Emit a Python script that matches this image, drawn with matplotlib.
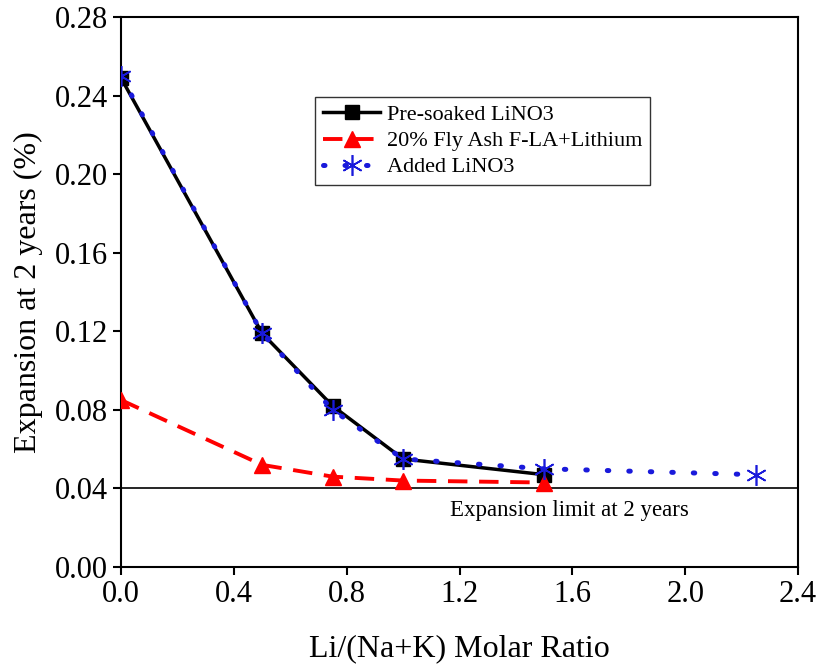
import matplotlib
matplotlib.use("Agg")
import matplotlib.pyplot as plt

plt.rcParams['font.family'] = ['Liberation Serif', 'DejaVu Serif']

x_presoak = [0.0, 0.5, 0.75, 1.0, 1.5]
y_presoak = [0.249, 0.119, 0.082, 0.055, 0.047]

x_flyash = [0.0, 0.5, 0.75, 1.0, 1.5]
y_flyash = [0.085, 0.052, 0.046, 0.044, 0.043]

x_added = [0.0, 0.5, 0.75, 1.0, 1.5, 2.25]
y_added = [0.250, 0.119, 0.080, 0.055, 0.050, 0.047]

limit = 0.04

fig = plt.figure(figsize=(8.2, 6.69), dpi=100)
ax = fig.add_axes([0.1476, 0.1525, 0.8256, 0.822])

ax.plot(x_presoak, y_presoak, color='black', lw=2.5, marker='s', ms=10,
        label='Pre-soaked LiNO3', zorder=3)
ax.plot(x_flyash, y_flyash, color='red', lw=2.8, ls=(0, (5, 3)), marker='^', ms=12,
        label='20% Fly Ash F-LA+Lithium', zorder=3)
ax.plot(x_added, y_added, color='#1a1adb', lw=3.6, ls=(0, (0.3, 4.0)), dash_capstyle='round',
        marker=(6, 2, 0), ms=15, mew=1.2, label='Added LiNO3', zorder=4)

ax.axhline(limit, color='black', lw=1.2, zorder=2)
ax.text(1.59, 0.029, 'Expansion limit at 2 years', ha='center', va='center', fontsize=16.5)

ax.set_xlim(0, 2.4)
ax.set_ylim(0, 0.28)
ax.set_xticks([0.0, 0.4, 0.8, 1.2, 1.6, 2.0, 2.4])
ax.set_xticklabels(['0.0', '0.4', '0.8', '1.2', '1.6', '2.0', '2.4'])
ax.set_yticks([0.00, 0.04, 0.08, 0.12, 0.16, 0.20, 0.24, 0.28])
ax.set_yticklabels(['0.00', '0.04', '0.08', '0.12', '0.16', '0.20', '0.24', '0.28'])
ax.tick_params(direction='out', length=6, width=1.5, labelsize=22)
for s in ax.spines.values():
    s.set_linewidth(1.5)

ax.set_xlabel('Li/(Na+K) Molar Ratio', fontsize=23, labelpad=18)
ax.set_ylabel('Expansion at 2 years (%)', fontsize=23, labelpad=8)

leg = ax.legend(loc='upper left', bbox_to_anchor=(0.27, 0.875), fontsize=16,
                frameon=True, fancybox=False, edgecolor='black', handlelength=2.6,
                borderpad=0.35, labelspacing=0.25, handletextpad=0.3)
leg.get_frame().set_linewidth(1.0)

fig.savefig('out.png', dpi=100)
